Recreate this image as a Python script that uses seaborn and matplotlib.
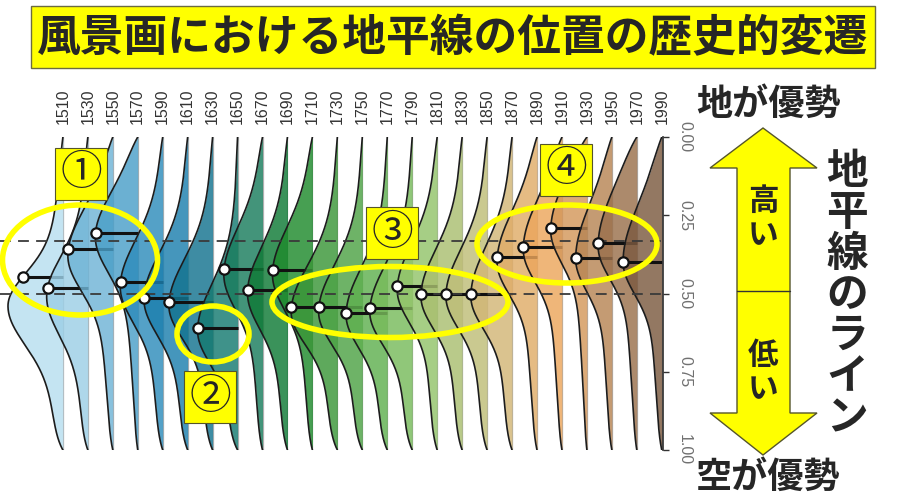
import numpy as np
import matplotlib
matplotlib.use("Agg")
import matplotlib.pyplot as plt
import seaborn as sns
from matplotlib.patches import Polygon, Ellipse, Rectangle

sns.set_theme(style="white")
plt.rcParams['font.family'] = ['Liberation Sans', 'Noto Sans CJK JP', 'DejaVu Sans']

# ---------------- data ----------------
years = list(range(1510, 1991, 20))
# y position of the marked point (0 = top / ground dominant, 1 = bottom / sky dominant)
horizon = [0.447, 0.482, 0.358, 0.307, 0.463, 0.514, 0.527, 0.610, 0.422, 0.489,
           0.425, 0.543, 0.543, 0.562, 0.546, 0.476, 0.502, 0.502, 0.502, 0.383,
           0.351, 0.291, 0.387, 0.339, 0.399]
# position of the density peak
peak_pos = [0.54, 0.51, 0.38, 0.32, 0.48, 0.52, 0.54, 0.62, 0.44, 0.50,
            0.44, 0.56, 0.56, 0.57, 0.56, 0.49, 0.51, 0.51, 0.51, 0.40,
            0.36, 0.30, 0.39, 0.35, 0.40]
# peak height of each density (in years on the x scale)
peak_height = [44, 33, 36, 34, 34, 35, 35, 32, 31, 32,
               32, 37, 35, 33, 34, 32, 33, 33, 33, 32,
               31, 29, 29, 31, 31]
upper_sd = [0.10, 0.12, 0.14, 0.13, 0.14, 0.14, 0.14, 0.14, 0.14, 0.14,
            0.14, 0.14, 0.14, 0.14, 0.14, 0.14, 0.14, 0.14, 0.15, 0.15,
            0.15, 0.15, 0.16, 0.17, 0.17]
lower_sd = [0.12, 0.12, 0.11, 0.11, 0.11, 0.11, 0.10, 0.10, 0.11, 0.11,
            0.11, 0.10, 0.10, 0.10, 0.10, 0.10, 0.10, 0.10, 0.10, 0.10,
            0.10, 0.10, 0.10, 0.10, 0.10]
colors = ['#b8dff0', '#9ccfe6', '#6fb4d6', '#4a9fc8', '#2e8cbb', '#1c7fae', '#13738f',
          '#157a70', '#1a7d5d', '#0f7a36', '#1e8a2c', '#3a9638', '#4ea346', '#5fb04f',
          '#78bb5b', '#93c46a', '#aabf70', '#bfbd78', '#d2b676', '#e0ac68', '#eca65c',
          '#d4975a', '#b78554', '#9a704c', '#7c5a40']
ytick_vals = [0.0, 0.25, 0.5, 0.75, 1.0]
ytick_labels = ['0.00', '0.25', '0.50', '0.75', '1.00']
ref_lines = [1 / 3, 0.5]

title = '風景画における地平線の位置の歴史的変遷'
top_label = '地が優勢'
bottom_label = '空が優勢'
side_label = '地平線のライン'
up_label = '高い'
down_label = '低い'
group_marks = ['①', '②', '③', '④']


def ridge(y, m, h, su, sl):
    s = np.where(y < m, su, sl)
    bs = np.where(y < m, 0.25, 0.35)
    g = 0.7 * np.exp(-(y - m) ** 2 / (2 * s ** 2)) + 0.3 * np.exp(-(y - m) ** 2 / (2 * bs ** 2))
    taper = (1 - np.exp(-y / 0.04)) * (1 - np.exp(-(1 - y) / 0.04))
    return h * g * taper


W, H = 900, 504
fig = plt.figure(figsize=(W / 100, H / 100), dpi=100)
ax = fig.add_axes([0, (H - 450) / H, 663 / W, 313 / H])

yy = np.linspace(0, 1, 400)
pt_x = []
for i, yr in enumerate(years):
    ax.plot([yr, yr], [0, 1], color='#b0b0b0', lw=0.9, zorder=1)
for i, yr in enumerate(years):
    f = ridge(yy, peak_pos[i], peak_height[i], upper_sd[i], lower_sd[i])
    ax.fill_betweenx(yy, yr - f, yr, color=colors[i], alpha=0.82, lw=0, zorder=2)
    ax.plot(yr - f, yy, color='#1c1c1c', lw=1.2, zorder=2)
    fh = float(ridge(np.array([horizon[i]]), peak_pos[i], peak_height[i], upper_sd[i], lower_sd[i])[0])
    ax.plot([yr - fh, yr], [horizon[i], horizon[i]], color='#111111', lw=2.2, zorder=2,
            solid_capstyle='butt')
    pt_x.append(yr - fh)

for v in ref_lines:
    ax.axhline(v, color='#3a3a3a', lw=1.3, ls=(0, (6, 4)), zorder=8)

sns.scatterplot(x=pt_x, y=horizon, ax=ax, s=55, color='white', edgecolor='#111111',
                linewidth=1.6, zorder=10, legend=False)

ax.set_xlim(1990 - 663 * 0.8, 1991)
ax.set_ylim(1, 0)
ax.set_xticks(years)
ax.set_xticklabels([str(y) for y in years], rotation=90)
ax.xaxis.tick_top()
ax.tick_params(axis='x', length=0, pad=9, labelsize=11.5, labelcolor='#333333')
ax.yaxis.tick_right()
ax.set_yticks(ytick_vals)
ax.set_yticklabels(ytick_labels, rotation=270, va='center')
ax.tick_params(axis='y', length=4, width=1, pad=6, labelsize=11.5, labelcolor='#707070',
               color='#333333', right=True, left=False)
for s in ['top', 'left', 'bottom']:
    ax.spines[s].set_visible(False)
ax.spines['right'].set_bounds(0, 1)
ax.spines['right'].set_color('#333333')
ax.set_xlabel('')
ax.set_ylabel('')
ax.grid(False)


def fx(px):
    return px / W


def fy(py):
    return 1 - py / H


# title box
fig.add_artist(Rectangle((fx(31), fy(68)), fx(875) - fx(31), (68 - 6) / H, transform=fig.transFigure,
                         facecolor='#ffff00', edgecolor='#6b6b40', lw=1, zorder=3))
fig.text(fx(453), fy(38), title, fontsize=31.5, fontweight='bold', ha='center', va='center',
         family=['Noto Sans CJK JP'], zorder=4)

# double arrow
arrow = [(763, 128), (817, 168), (790, 168), (790, 413), (817, 413), (763, 455),
         (710, 413), (737, 413), (737, 168), (710, 168)]
fig.add_artist(Polygon([(fx(x), fy(y)) for x, y in arrow], closed=True, transform=fig.transFigure,
                       facecolor='#ffff00', edgecolor='#55552a', lw=1, zorder=3))
fig.add_artist(plt.Line2D([fx(737), fx(790)], [fy(291), fy(291)], transform=fig.transFigure,
                          color='#333333', lw=1, zorder=4))
fig.text(fx(763), fy(218), '\n'.join(up_label), fontsize=22, fontweight='bold', ha='center',
         va='center', linespacing=1.05, family=['Noto Sans CJK JP'], zorder=5)
fig.text(fx(763), fy(372), '\n'.join(down_label), fontsize=22, fontweight='bold', ha='center',
         va='center', linespacing=1.05, family=['Noto Sans CJK JP'], zorder=5)
fig.text(fx(768), fy(104), top_label, fontsize=26, fontweight='bold', ha='center', va='center',
         family=['Noto Sans CJK JP'])
fig.text(fx(768), fy(477), bottom_label, fontsize=26, fontweight='bold', ha='center', va='center',
         family=['Noto Sans CJK JP'])
fig.text(fx(847), fy(295), '\n'.join(side_label), fontsize=30, fontweight='bold', ha='center',
         va='center', linespacing=0.97, family=['Noto Sans CJK JP'])

# yellow ellipses
for (cx, cy, w, h) in [(80, 260, 155, 110), (213, 334, 72, 56), (390, 302, 236, 71), (567, 244, 180, 78)]:
    fig.add_artist(Ellipse((fx(cx), fy(cy)), w / W, h / H, transform=fig.transFigure,
                           facecolor='none', edgecolor='#ffff00', lw=4, zorder=6))

# numbered boxes
for mark, (cx, cy) in zip(group_marks, [(81, 174), (210, 397), (392, 233), (566, 170)]):
    fig.add_artist(Rectangle((fx(cx - 26), fy(cy + 26)), 52 / W, 52 / H, transform=fig.transFigure,
                             facecolor='#ffff00', edgecolor='#55552a', lw=0.8, zorder=7))
    fig.text(fx(cx), fy(cy), mark, fontsize=30, ha='center', va='center',
             family=['Noto Sans CJK JP', 'DejaVu Sans'], zorder=8)

fig.savefig('out.png', dpi=100)
